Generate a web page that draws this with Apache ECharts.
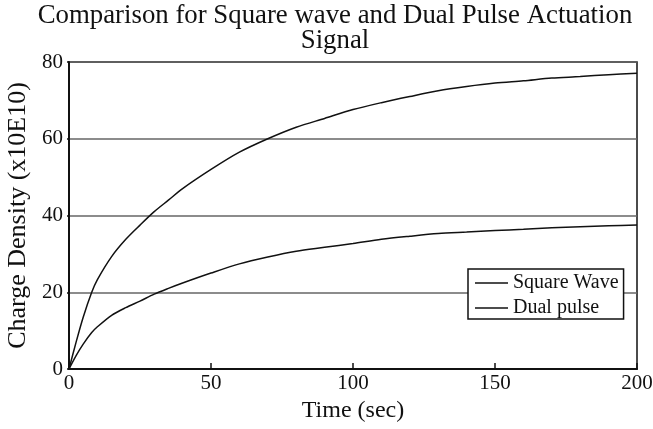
<!DOCTYPE html>
<html>
<head>
<meta charset="utf-8">
<script src="https://cdn.jsdelivr.net/npm/echarts@6/dist/echarts.min.js"></script>
<style>
  html, body { margin: 0; padding: 0; background: #fff; }
  #chart { width: 653px; height: 429px; }
</style>
</head>
<body>
<div id="chart"></div>
<script>
// Sample times (sec)
const times = [0, 2.5, 5, 8, 10, 15, 20, 25, 30, 35, 40, 50, 60, 70, 80, 90, 100, 110, 120, 130, 140, 150, 160, 170, 180, 190, 200];
// Charge density (x10E10) for each actuation signal
const squareWave = [0, 7, 13.5, 20, 23.3, 29.3, 33.8, 37.5, 41, 44, 47, 52, 56.5, 60, 63, 65.3, 67.6, 69.4, 71, 72.5, 73.6, 74.5, 75.1, 75.8, 76.2, 76.7, 77.1];
const dualPulse  = [0, 3.5, 6.5, 9.5, 11, 14, 16, 17.7, 19.5, 21, 22.4, 25, 27.4, 29.2, 30.7, 31.7, 32.7, 33.8, 34.6, 35.3, 35.7, 36.1, 36.4, 36.8, 37.1, 37.3, 37.5];
const yTicks = [0, 20, 40, 60, 80];
const xTicks = [0, 50, 100, 150, 200];

const font = '"Liberation Serif", "Times New Roman", serif';
const pairs = (ys) => times.map((t, i) => [t, ys[i]]);

const chart = echarts.init(document.getElementById('chart'), null, { renderer: 'canvas' });
chart.setOption({
  animation: false,
  backgroundColor: '#fff',
  title: {
    text: 'Comparison for Square wave and Dual Pulse Actuation\nSignal',
    left: 330,
    top: -2,
    textAlign: 'center',
    textStyle: { fontFamily: font, fontWeight: 'normal', fontSize: 26.8, color: '#111', lineHeight: 25 }
  },
  legend: {
    orient: 'vertical',
    left: 468,
    top: 269,
    backgroundColor: '#fff',
    borderColor: '#111',
    borderWidth: 1.5,
    borderRadius: 0,
    padding: [4, 5, 1, 7],
    itemGap: 5,
    itemWidth: 33,
    itemHeight: 1.5,
    icon: 'rect',
    textStyle: { fontFamily: font, fontSize: 20, color: '#111', lineHeight: 20 },
    data: ['Square Wave', 'Dual pulse']
  },
  grid: {
    left: 69, right: 16, top: 62, bottom: 60,
    outerBoundsMode: 'none',
    containLabel: false,
    show: true, borderColor: '#111', borderWidth: 1.5, backgroundColor: 'transparent'
  },
  xAxis: {
    type: 'value',
    min: 0, max: 200, interval: 50,
    name: 'Time (sec)',
    nameLocation: 'middle',
    nameGap: 27,
    nameTextStyle: { fontFamily: font, fontSize: 24, color: '#111' },
    axisLine: { show: true, lineStyle: { color: '#111', width: 2 } },
    axisTick: { show: true, inside: true, length: 6, lineStyle: { color: '#111', width: 1.5 } },
    axisLabel: { fontFamily: font, fontSize: 21, color: '#111', margin: 4, hideOverlap: false,
      formatter: (v) => xTicks.includes(v) ? String(v) : '' },
    splitLine: { show: false }
  },
  yAxis: {
    type: 'value',
    min: 0, max: 80, interval: 20,
    name: 'Charge Density (x10E10)',
    nameLocation: 'middle',
    nameGap: 36,
    nameTextStyle: { fontFamily: font, fontSize: 26, color: '#111' },
    axisLine: { show: true, lineStyle: { color: '#111', width: 2 } },
    axisTick: { show: true, inside: false, length: 2, lineStyle: { color: '#111', width: 1.5 } },
    axisLabel: { fontFamily: font, fontSize: 21, color: '#111', margin: 6,
      formatter: (v) => yTicks.includes(v) ? String(v) : '' },
    splitLine: { show: true, lineStyle: { color: '#666', width: 1.5 } }
  },
  series: [
    {
      name: 'Square Wave', type: 'line', data: pairs(squareWave),
      showSymbol: false, smooth: 0.3, z: 3,
      lineStyle: { color: '#111', width: 1.5 }, itemStyle: { color: '#111' }
    },
    {
      name: 'Dual pulse', type: 'line', data: pairs(dualPulse),
      showSymbol: false, smooth: 0.3, z: 3,
      lineStyle: { color: '#111', width: 1.5 }, itemStyle: { color: '#111' }
    }
  ]
});
</script>
</body>
</html>
